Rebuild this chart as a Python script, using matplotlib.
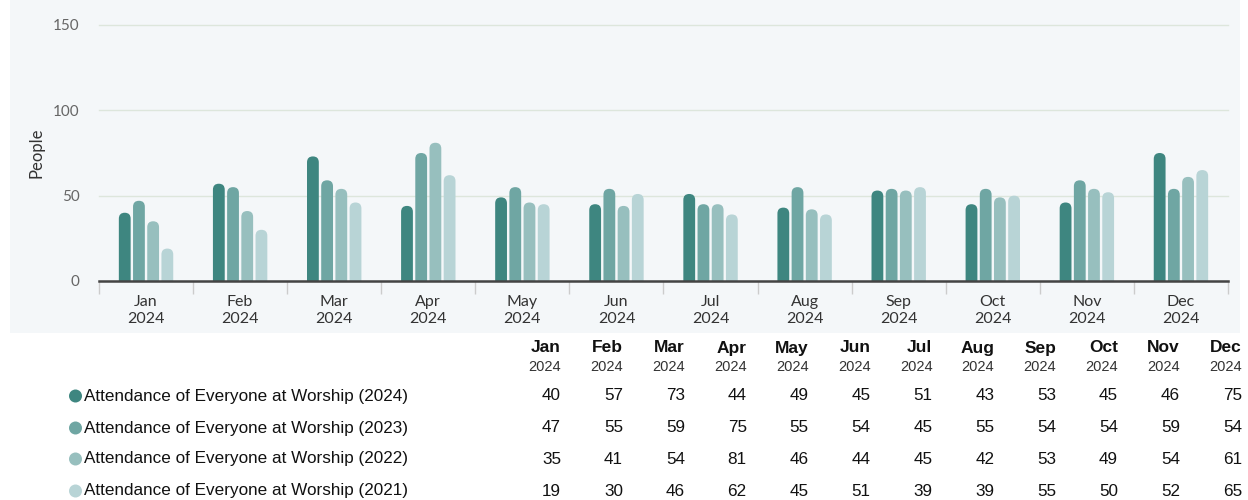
import matplotlib
matplotlib.use("Agg")
import matplotlib.pyplot as plt
from matplotlib.patches import FancyBboxPatch, Rectangle, Ellipse

months = ["Jan", "Feb", "Mar", "Apr", "May", "Jun", "Jul", "Aug", "Sep", "Oct", "Nov", "Dec"]
year_label = "2024"
series_names = [
    "Attendance of Everyone at Worship (2024)",
    "Attendance of Everyone at Worship (2023)",
    "Attendance of Everyone at Worship (2022)",
    "Attendance of Everyone at Worship (2021)",
]
v2024 = [40, 57, 73, 44, 49, 45, 51, 43, 53, 45, 46, 75]
v2023 = [47, 55, 59, 75, 55, 54, 45, 55, 54, 54, 59, 54]
v2022 = [35, 41, 54, 81, 46, 44, 45, 42, 53, 49, 54, 61]
v2021 = [19, 30, 46, 62, 45, 51, 39, 39, 55, 50, 52, 65]
series_values = [v2024, v2023, v2022, v2021]
colors = ["#3e8680", "#6fa6a3", "#97bfbe", "#b8d4d6"]
yticks = [0, 50, 100, 150]

W, H = 1248, 500
fig = plt.figure(figsize=(W / 100, H / 100), dpi=100)
fig.patch.set_facecolor("white")

def fx(x):
    return x / W

def fy(y):
    return 1 - y / H

# light background panel for the chart
fig.patches.append(Rectangle((fx(10), fy(333)), fx(1230), 333 / H, transform=fig.transFigure,
                             facecolor="#f4f7f9", edgecolor="none", zorder=-5))

ax_l, ax_r, ax_b, ax_t = 99, 1228, 281, 25
ax = fig.add_axes([fx(ax_l), fy(ax_b), fx(ax_r - ax_l), (ax_b - ax_t) / H])
ax.set_zorder(2)
ax.set_facecolor("none")
ax.set_xlim(-0.5, len(months) - 0.5)
ax.set_ylim(0, 150)

xunit_px = (ax_r - ax_l) / len(months)
yunit_px = (ax_b - ax_t) / 150.0
aspect = (1 / yunit_px) / (1 / xunit_px)

bw = 11.8 / xunit_px
step = 14.2 / xunit_px
n = len(series_values)
for si, vals in enumerate(series_values):
    off = (si - (n - 1) / 2) * step
    for mi, v in enumerate(vals):
        x0 = mi + off - bw / 2
        p = FancyBboxPatch((x0, -10), bw, v + 10,
                           boxstyle=f"round,pad=0,rounding_size={bw / 2}",
                           mutation_aspect=aspect, facecolor=colors[si],
                           edgecolor="none", zorder=3)
        ax.add_patch(p)

for t in yticks:
    ax.axhline(t, color="#dde6dc", lw=1.0, zorder=1, clip_on=False)

font = "Lato"
ax.set_yticks(yticks)
ax.set_yticklabels([str(t) for t in yticks], fontfamily=font, fontsize=11, color="#666666")
ax.tick_params(axis="y", length=0, pad=14)
ax.set_xticks(range(len(months)))
ax.set_xticklabels([f"{m}\n{year_label}" for m in months], fontfamily=font, fontsize=11.5,
                   color="#333333", linespacing=1.24)
ax.tick_params(axis="x", which="major", length=0, pad=10)
ax.set_xticks([i - 0.5 for i in range(len(months) + 1)], minor=True)
ax.tick_params(axis="x", which="minor", length=9, color="#cccccc", width=1)
for s in ["top", "right", "left"]:
    ax.spines[s].set_visible(False)
ax.spines["bottom"].set_color("#444444")
ax.spines["bottom"].set_linewidth(1.8)
ax.spines["bottom"].set_zorder(5)

fig.text(fx(37), fy(153), "People", rotation=90, ha="center", va="center",
         fontfamily=font, fontsize=12, color="#333333")

# table below
tfont = "Liberation Sans"
col_right = [561 + i * 61.9 for i in range(len(months))]
for i, m in enumerate(months):
    fig.text(fx(col_right[i]), fy(348), m, ha="right", va="center", fontfamily=tfont,
             fontsize=12.5, fontweight="bold", color="#111111")
    fig.text(fx(col_right[i]), fy(367), year_label, ha="right", va="center", fontfamily=tfont,
             fontsize=10.5, color="#333333")

row_y = [396, 428, 459, 491]
for si, name in enumerate(series_names):
    y = row_y[si]
    fig.patches.append(Ellipse((fx(75.5), fy(y)), 13 / W, 13 / H, transform=fig.transFigure,
                               facecolor=colors[si], edgecolor="none"))
    fig.text(fx(84), fy(y), name, ha="left", va="center", fontfamily=tfont,
             fontsize=12.3, color="#111111")
    for i, v in enumerate(series_values[si]):
        fig.text(fx(col_right[i]), fy(y), str(v), ha="right", va="center", fontfamily=tfont,
                 fontsize=12.3, color="#111111")

fig.savefig("out.png", dpi=100)
